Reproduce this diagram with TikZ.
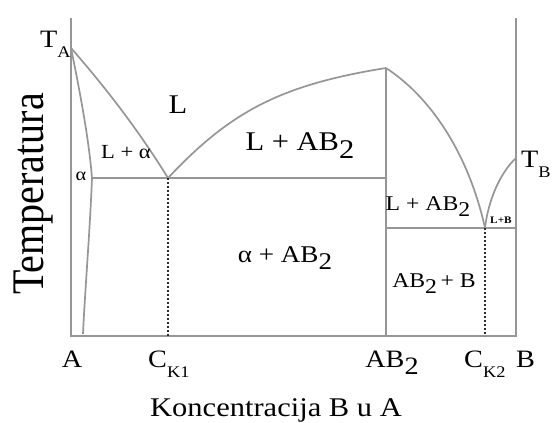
\documentclass[tikz,border=0pt]{standalone}
\usepackage{fontspec}
\setmainfont{Liberation Serif}[FakeStretch=1.13]
\newfontfamily\plainserif{Liberation Serif}
\newcommand\lo[1]{\raisebox{-0.3em}{#1}}
\newcommand\losm[1]{\raisebox{-0.4em}{\scalebox{0.65}{#1}}}
\definecolor{linegray}{RGB}{150,150,150}
\definecolor{dotgray}{RGB}{45,45,45}
\tikzset{
  curveline/.style={draw=linegray, line width=1.7pt},
  axisline/.style={draw=linegray, line width=2pt},
  dotline/.style={draw=dotgray, line width=2.4pt, dash pattern=on 1.6pt off 2.4pt},
  lbl/.style={inner sep=0pt, anchor=base, text=black},
  fs/.style={font=\fontsize{#1}{#1}\selectfont}
}
\begin{document}
\begin{tikzpicture}[x=1pt,y=-1pt]
\useasboundingbox (0,0) rectangle (552,423);
% key points
\coordinate (TL) at (71,18);
\coordinate (BL) at (71,336);
\coordinate (BR) at (516,336);
\coordinate (TR) at (516,18);
\coordinate (TA) at (71,48);
\coordinate (E1) at (168,178);
\coordinate (S1) at (92,178);
\coordinate (S0) at (83,334);
\coordinate (P) at (386,68);
\coordinate (PB) at (386,336);
\coordinate (P1) at (386,178);
\coordinate (P2) at (386,228);
\coordinate (E2) at (485,228);
\coordinate (R2) at (516,228);
\coordinate (TB) at (516,158);
\coordinate (E1B) at (168,336);
\coordinate (E2B) at (485,336);
% frame
\draw[axisline] (TL) -- (BL) -- (BR) -- (TR);
\draw[axisline] (P) -- (PB);
% phase lines
\draw[curveline] (TA) .. controls (106,88) and (139,131) .. (E1);
\draw[curveline] (TA) .. controls (80,92) and (89,140) .. (S1);
\draw[curveline] (S1) .. controls (90,230) and (85,290) .. (S0);
\draw[curveline] (S1) -- (P1);
\draw[curveline] (E1) .. controls (230,112) and (280,85) .. (P);
\draw[curveline] (P) .. controls (435,100) and (470,160) .. (E2);
\draw[curveline] (E2) .. controls (489,195) and (503,170) .. (TB);
\draw[curveline] (P2) -- (R2);
\draw[dotline] (E1) -- (E1B);
\draw[dotline] (E2) -- (E2B);
% region labels
\node[lbl,fs=27] (lL) at (178,113) {L};
\node[lbl,fs=20] (lLa) at (126,158) {L + α};
\node[lbl,fs=27] (lLAB) at (300,150) {L + AB\lo{2}};
\node[lbl,fs=24] (laAB) at (285,262) {α + AB\lo{2}};
\node[lbl,fs=21] (lLAB2) at (428,210) {L + AB\lo{2}};
\node[lbl,fs=21] (lABB) at (434,287) {AB\lo{2}\,+ B};
\node[lbl,font=\fontsize{10}{10}\selectfont\bfseries] (lLB) at (501,223) {L+B};
\node[lbl,fs=18] (la) at (81,180) {α};
% temperatures
\node[lbl,fs=25,anchor=base west] (TAl) at (40,47) {T\losm{A}};
\node[lbl,fs=25,anchor=base west] (TBl) at (521,167) {T\losm{B}};
% axis labels
\node[lbl,fs=25] (xA) at (72,367) {A};
\node[lbl,fs=25,anchor=base west] (xC1) at (148,367) {C\losm{K1}};
\node[lbl,fs=25] (xAB) at (392,367) {AB\lo{2}};
\node[lbl,fs=25,anchor=base west] (xC2) at (464,367) {C\losm{K2}};
\node[lbl,fs=25,anchor=base west] (xB) at (516,367) {B};
\node[lbl,fs=27] (xlab) at (276,416) {Koncentracija B u A};
\node[lbl,rotate=90,font=\plainserif\fontsize{40}{40}\selectfont] (ylab) at (43,194) {\scalebox{1}[1.13]{Temperatura}};
\end{tikzpicture}
\end{document}
